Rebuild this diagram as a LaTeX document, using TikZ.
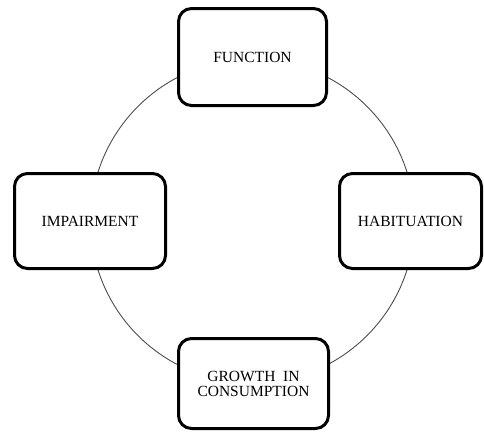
\documentclass[tikz,border=0pt]{standalone}
\usepackage{fontspec}
\setmainfont{Liberation Serif}
\begin{document}
\begin{tikzpicture}[x=1pt,y=-1pt,
  box/.style={draw=black, fill=white, line width=3pt, rounded corners=13pt,
    align=center, inner sep=0pt, font=\fontsize{15.5}{15}\selectfont},
  ring/.style={draw=black!70, line width=0.9pt}]
\useasboundingbox (0,0) rectangle (484,432);
\coordinate (c) at (252.5,221);
\draw[ring] (c) circle (162);
\node[box, minimum width=148pt, minimum height=97pt] (fun) at (252.5,57) {FUNCTION};
\node[box, minimum width=151pt, minimum height=95pt] (imp) at (90,221) {IMPAIRMENT};
\node[box, minimum width=142pt, minimum height=95pt] (hab) at (410.5,221) {HABITUATION};
\node[box, minimum width=150pt, minimum height=90pt] (gro) at (253.5,383.5) {GROWTH\ \ IN\\CONSUMPTION};
\end{tikzpicture}
\end{document}
